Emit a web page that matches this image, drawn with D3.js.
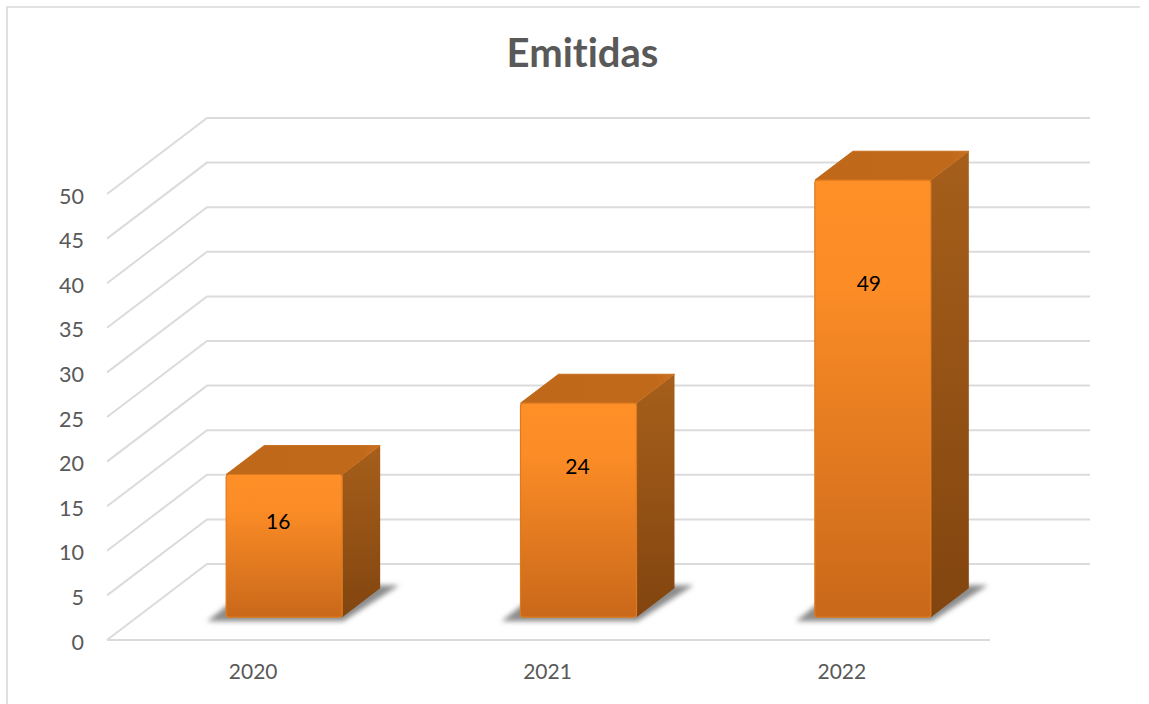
<!DOCTYPE html>
<html><head><meta charset="utf-8">
<script src="https://cdn.jsdelivr.net/npm/d3@7/dist/d3.min.js"></script>
<style>html,body{margin:0;padding:0;background:#fff}svg{display:block}text{font-family:Lato,"Open Sans",sans-serif;font-variant-ligatures:none}</style>
</head><body><svg id="c" width="1149" height="704"></svg>
<script>
const title = "Emitidas";
const categories = ["2020","2021","2022"];
const values = [16,24,49];
const tickValues = [0,5,10,15,20,25,30,35,40,45,50];

const svg = d3.select("#c");
const defs = svg.append("defs");
function grad(id, stops, horizontal){
  const g = defs.append("linearGradient").attr("id",id).attr("x1",0).attr("y1",0)
    .attr("x2",horizontal?1:0).attr("y2",horizontal?0:1);
  stops.forEach(s=>g.append("stop").attr("offset",s[0]).attr("stop-color",s[1]));
}
grad("front",[[0,"#ff9028"],[0.25,"#fb8c26"],[1,"#c9681a"]]);
grad("side",[[0,"#a65f1b"],[1,"#82450f"]]);
grad("topFace",[[0,"#bf6819"],[0.88,"#c1691a"],[1,"#ca7120"]],true);
defs.append("filter").attr("id","blur").attr("x","-20%").attr("y","-50%").attr("width","140%").attr("height","200%")
  .append("feGaussianBlur").attr("stdDeviation",2.6);

// chart frame
svg.append("path").attr("d","M7,704V7H1140").attr("fill","none").attr("stroke","#d9d9d9").attr("stroke-width",1.6);

// title
svg.append("text").attr("x",582.5).attr("y",67).attr("text-anchor","middle")
  .attr("font-size",40).attr("font-weight",700).attr("fill","#595959").text(title);

// scales: y is height above the floor; x spans the front edge of the floor
const yFront = d3.scaleLinear().domain([0,50]).range([640,194]);
const x = d3.scaleBand().domain(categories).range([107,990]);
const depthX = 100, depthY = 76;      // floor depth projection
const barFrontDepth = 0.30, barBackDepth = 0.68, barW = 116;

// gridlines: side wall then back wall
const grid = svg.append("g").attr("stroke","#dbdbdb").attr("stroke-width",2).attr("fill","none");
tickValues.forEach(t=>{
  const y = yFront(t);
  grid.append("path").attr("d",`M${107},${y}L${107+depthX},${y-depthY}H${990+depthX}`);
});
grid.append("line").attr("x1",107).attr("x2",990).attr("y1",yFront(0)).attr("y2",yFront(0));

// y tick labels
svg.append("g").selectAll("text").data(tickValues).join("text")
  .attr("x",84).attr("y",d=>yFront(d)+9.5).attr("text-anchor","end")
  .attr("font-size",21.5).attr("fill","#595959").text(d=>d);

// x labels
svg.append("g").selectAll("text").data(categories).join("text")
  .attr("x",d=>x(d)+x.bandwidth()/2-1).attr("y",679).attr("text-anchor","middle")
  .attr("font-size",21).attr("fill","#595959").text(d=>d);

// bars
const dx0 = depthX*barFrontDepth, dy0 = depthY*barFrontDepth;
const dx = depthX*(barBackDepth-barFrontDepth), dy = depthY*(barBackDepth-barFrontDepth);
const labelNudgeX = [-6,-1,-4];
const labelNudgeY = [0,3,-2];
const bars = svg.append("g").selectAll("g").data(categories.map((c,i)=>({c,v:values[i],i}))).join("g");
bars.each(function(d){
  const g = d3.select(this);
  const xl = x(d.c)+x.bandwidth()/2 + dx0 - barW/2;
  const xr = xl+barW;
  const base = yFront(0)-dy0;
  const h = yFront(0)-yFront(d.v);
  const top = base-h;
  // floor shadow
  g.append("path").attr("d",`M${xl-19},${base+4}L${xl+5},${base-15}L${xr},${base-dy-3}H${xr+dx+19}L${xr+1},${base+4}Z`)
    .attr("fill","#8c8c8c").attr("filter","url(#blur)");
  // side
  g.append("path").attr("d",`M${xr},${top}L${xr+dx},${top-dy}V${base-dy}L${xr},${base}Z`).attr("fill","url(#side)");
  // top
  g.append("path").attr("d",`M${xl},${top}L${xl+dx},${top-dy}H${xr+dx}L${xr},${top}Z`)
    .attr("fill","url(#topFace)").attr("stroke","#c56d1c").attr("stroke-width",1).attr("stroke-linejoin","round");
  // front
  g.append("rect").attr("x",xl).attr("y",top).attr("width",barW).attr("height",h).attr("rx",3)
    .attr("fill","url(#front)").attr("stroke","#dd7a20").attr("stroke-width",1.2);
  // value label
  g.append("text").attr("text-anchor","middle").attr("font-size",21).attr("fill","#000")
    .attr("x",(xl+xr)/2+labelNudgeX[d.i])
    .attr("y",top+h*0.2+25.5+labelNudgeY[d.i])
    .text(d.v);
});
</script></body></html>
